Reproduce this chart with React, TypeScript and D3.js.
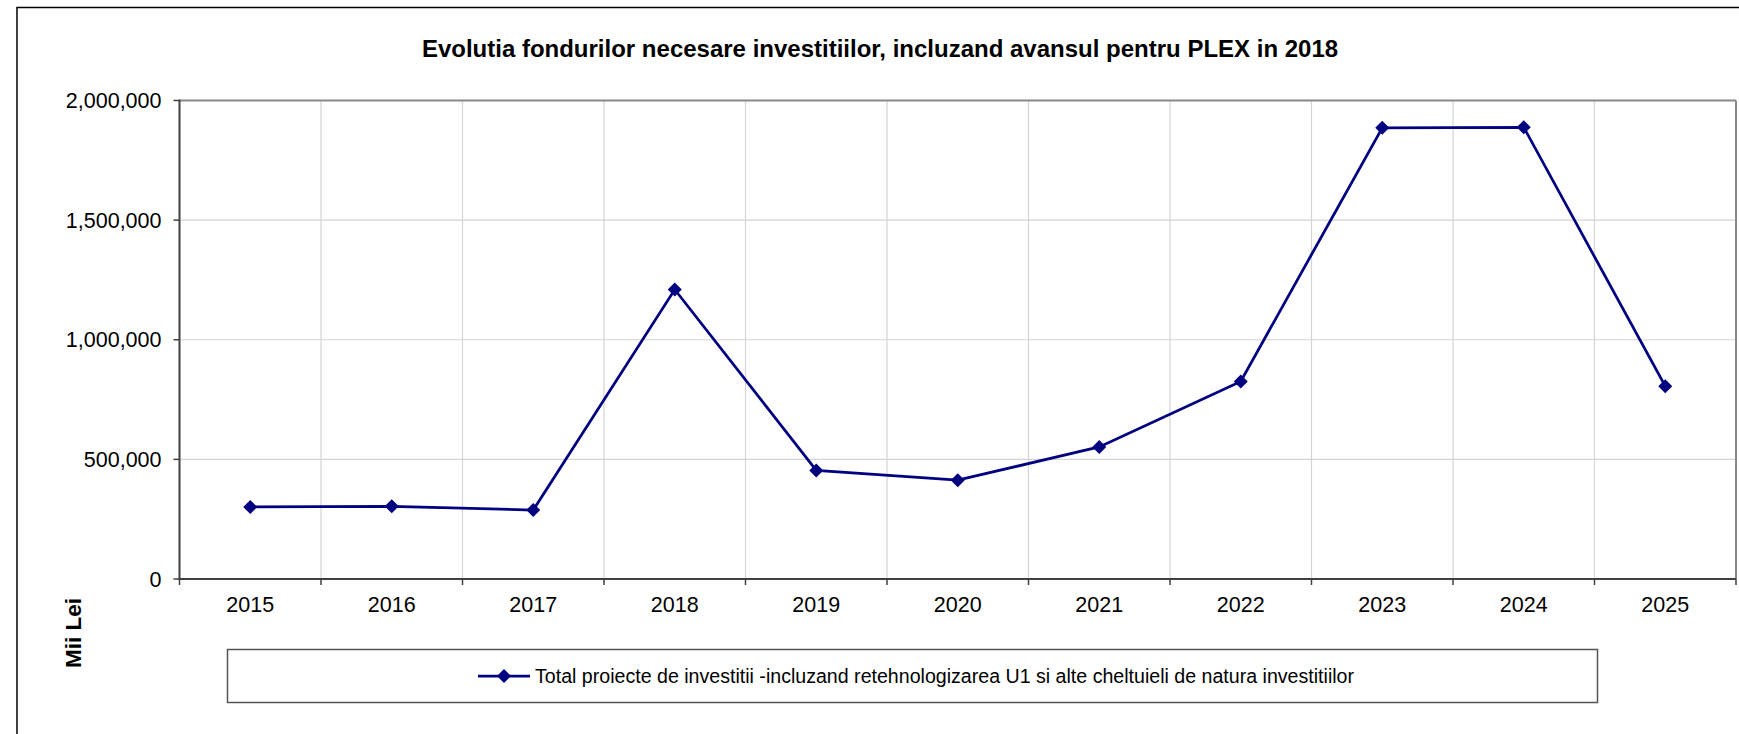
import React from "react";
import * as d3 from "d3";

const title = "Evolutia fondurilor necesare investitiilor, incluzand avansul pentru PLEX in 2018";
const years = ["2015", "2016", "2017", "2018", "2019", "2020", "2021", "2022", "2023", "2024", "2025"];
const totals = [301000, 304000, 288000, 1210000, 454000, 413000, 552000, 826000, 1886000, 1888000, 806000];
const yTicks = [0, 500000, 1000000, 1500000, 2000000];
const yLabel = "Mii Lei";
const seriesName = "Total proiecte de investitii -incluzand retehnologizarea U1 si alte cheltuieli de natura investitiilor";

const W = 1739;
const H = 734;
const FONT = "'Liberation Sans', Arial, sans-serif";

export default function App() {
  const left = 179.5, right = 1736, top = 100.5, bottom = 579;
  const x = d3.scaleBand<string>().domain(years).range([left, right]).padding(0);
  const y = d3.scaleLinear().domain([0, 2000000]).range([bottom, top]);
  const fmt = d3.format(",");
  const line = d3.line<number>()
    .x((_, i) => (x(years[i]) as number) + x.bandwidth() / 2)
    .y((d) => y(d));
  const diamond = d3.symbol().type(d3.symbolDiamond2).size(125)();
  const boundaries = years.map((yr) => x(yr) as number).concat([right]);
  const color = "#000080";

  return (
    <svg width={W} height={H} style={{ position: "absolute", left: 0, top: 0, background: "#fff" }} fontFamily={FONT}>
      <rect x={0} y={0} width={W} height={H} fill="#fff" />
      {/* outer chart frame */}
      <rect x={17} y={7.5} width={W + 10} height={H + 10} fill="none" stroke="#000" strokeWidth={1.5} />
      <text x={880} y={57} textAnchor="middle" fontWeight="bold" fontSize={24} fill="#000">{title}</text>

      {/* gridlines */}
      {yTicks.map((t) => (
        <line key={"gy" + t} x1={left} x2={right} y1={y(t)} y2={y(t)} stroke="#d4d4d4" strokeWidth={1.2} />
      ))}
      {boundaries.slice(1, -1).map((b, i) => (
        <line key={"gx" + i} x1={b} x2={b} y1={top} y2={bottom} stroke="#d4d4d4" strokeWidth={1.2} />
      ))}
      {/* plot border top/right */}
      <line x1={left} x2={right} y1={top} y2={top} stroke="#888" strokeWidth={2} />
      <line x1={right} x2={right} y1={top} y2={bottom} stroke="#888" strokeWidth={2} />
      {/* axes */}
      <line x1={left} x2={left} y1={top - 1} y2={bottom + 1} stroke="#404040" strokeWidth={2} />
      <line x1={left - 1} x2={right} y1={bottom} y2={bottom} stroke="#404040" strokeWidth={2} />
      {yTicks.map((t) => (
        <g key={"ty" + t}>
          <line x1={left - 6} x2={left} y1={y(t)} y2={y(t)} stroke="#404040" strokeWidth={1.5} />
          <text x={left - 18} y={y(t)} dy="0.35em" textAnchor="end" fontSize={21.5} fill="#000">{fmt(t)}</text>
        </g>
      ))}
      {boundaries.map((b, i) => (
        <line key={"tx" + i} x1={b} x2={b} y1={bottom} y2={bottom + 6} stroke="#404040" strokeWidth={1.5} />
      ))}
      {years.map((yr) => (
        <text key={"lx" + yr} x={(x(yr) as number) + x.bandwidth() / 2} y={612} textAnchor="middle" fontSize={21.5} fill="#000">{yr}</text>
      ))}
      <text transform={`translate(81,633) rotate(-90)`} textAnchor="middle" fontWeight="bold" fontSize={22.5} fill="#000">{yLabel}</text>

      {/* series */}
      <path d={line(totals) || ""} fill="none" stroke={color} strokeWidth={2.75} />
      {totals.map((v, i) => (
        <path key={"m" + i} d={diamond || ""} transform={`translate(${(x(years[i]) as number) + x.bandwidth() / 2},${y(v)})`} fill={color} />
      ))}

      {/* legend */}
      <rect x={227.5} y={649.5} width={1370} height={53} fill="#fff" stroke="#555" strokeWidth={1.5} />
      <line x1={478} x2={530} y1={676} y2={676} stroke={color} strokeWidth={2.75} />
      <path d={diamond || ""} transform="translate(504,676)" fill={color} />
      <text x={535} y={676} dy="0.35em" fontSize={19.6} fill="#000">{seriesName}</text>
    </svg>
  );
}
